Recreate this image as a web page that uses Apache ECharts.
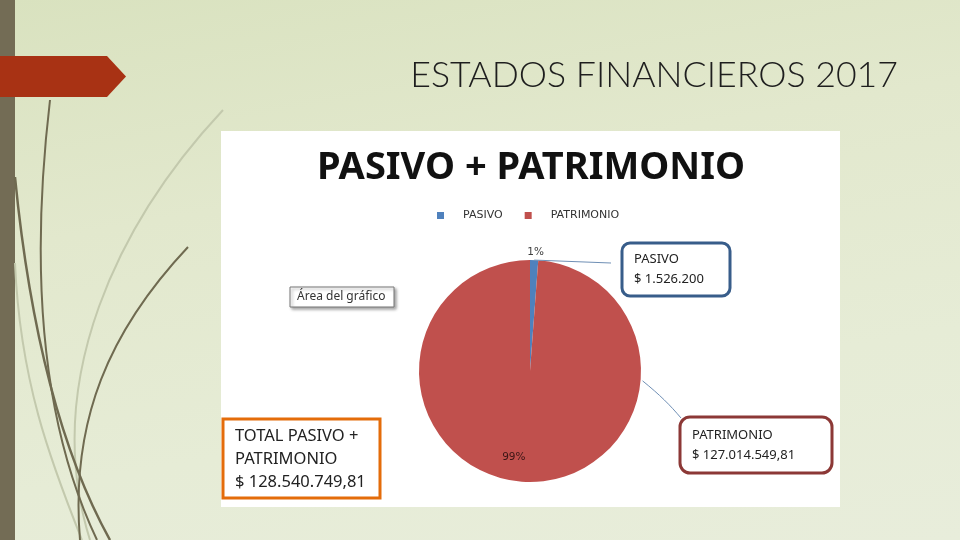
<!DOCTYPE html>
<html>
<head>
<meta charset="utf-8">
<script src="https://cdn.jsdelivr.net/npm/echarts@6/dist/echarts.min.js"></script>
<style>
html,body{margin:0;padding:0;}
body{width:960px;height:540px;overflow:hidden;
background:linear-gradient(170deg,#d9e2bf 0%,#e2e8cd 35%,#e6ecd6 70%,#e8eddb 100%);}
#chart{width:960px;height:540px;}
</style>
</head>
<body>
<div id="chart"></div>
<script>
// ---- data ----
const slideTitle = 'ESTADOS FINANCIEROS 2017';
const chartTitle = 'PASIVO + PATRIMONIO';
const categories = ['PASIVO', 'PATRIMONIO'];
const values = [1526200, 127014549.81];
const colors = ['#4f81bd', '#c0504d'];
const totalCaption = ['TOTAL PASIVO +', 'PATRIMONIO'];
const tooltipCaption = 'Área del gráfico';

// ---- helpers ----
function fmt(v) {
  const fixed = (Math.round(v * 100) / 100).toFixed(2);
  let [ip, dp] = fixed.split('.');
  ip = ip.replace(/\B(?=(\d{3})+(?!\d))/g, '.');
  return '$ ' + ip + (dp === '00' ? '' : ',' + dp);
}
const total = values.reduce((a, b) => a + b, 0);

const CX = 530, CY = 371, R = 111;
const toRad = d => d * Math.PI / 180;
// pasivo slice mid-angle (start at top, clockwise)
const pasivoMid = 90 - (values[0] / total * 360) / 2;
const p0 = [CX + R * Math.cos(toRad(pasivoMid)), CY - R * Math.sin(toRad(pasivoMid))];
const patAng = -5;
const p1 = [CX + (R + 2) * Math.cos(toRad(patAng)), CY - (R + 2) * Math.sin(toRad(patAng))];

const darkLine = '#6f6a50';
const lightLine = '#c3c9ad';

const chart = echarts.init(document.getElementById('chart'), null, {renderer: 'canvas'});
const option = {
  animation: false,
  backgroundColor: 'transparent',
  color: colors,
  title: {
    text: chartTitle,
    left: 526, top: 144,
    textAlign: 'center',
    textStyle: {fontFamily: 'Noto Sans', fontWeight: 'bold', fontSize: 38, color: '#111'}
  },
  legend: {
    data: categories,
    left: 437, top: 210,
    padding: 0,
    icon: 'rect', itemWidth: 7, itemHeight: 7, itemGap: 22,
    selectedMode: false,
    textStyle: {fontFamily: 'DejaVu Sans', fontSize: 11, color: '#333', padding: [0, 0, 0, 14]}
  },
  graphic: [
    // left decorative bar
    {type: 'rect', z: -10, shape: {x: 0, y: 0, width: 15, height: 540}, style: {fill: '#736c55'}},
    // decorative curves
    {type: 'bezierCurve', z: -9, shape: {x1: 223, y1: 110, cpx1: 120, cpy1: 220, cpx2: 40, cpy2: 380, x2: 90, y2: 540}, style: {stroke: lightLine, lineWidth: 2, fill: null}},
    {type: 'bezierCurve', z: -9, shape: {x1: 15, y1: 263, cpx1: 20, cpy1: 380, cpx2: 50, cpy2: 460, x2: 82, y2: 540}, style: {stroke: lightLine, lineWidth: 2, fill: null}},
    {type: 'bezierCurve', z: -8, shape: {x1: 50, y1: 100, cpx1: 30, cpy1: 270, cpx2: 40, cpy2: 420, x2: 97, y2: 540}, style: {stroke: darkLine, lineWidth: 2, fill: null}},
    {type: 'bezierCurve', z: -8, shape: {x1: 15, y1: 177, cpx1: 30, cpy1: 330, cpx2: 60, cpy2: 450, x2: 110, y2: 540}, style: {stroke: darkLine, lineWidth: 2.5, fill: null}},
    {type: 'bezierCurve', z: -8, shape: {x1: 188, y1: 247, cpx1: 110, cpy1: 330, cpx2: 70, cpy2: 420, x2: 80, y2: 540}, style: {stroke: darkLine, lineWidth: 2, fill: null}},
    // red arrow
    {type: 'polygon', z: -7, shape: {points: [[0, 56], [107, 56], [126, 76.5], [107, 97], [0, 97]]}, style: {fill: '#a83214'}},
    // slide title
    {type: 'text', z: 5, style: {text: slideTitle, x: 898, y: 75, align: 'right', verticalAlign: 'middle',
      font: '300 35.7px Lato', fill: '#1e1e1e'}},
    // white chart area
    {type: 'rect', z: -5, shape: {x: 221, y: 131, width: 619, height: 376}, style: {fill: '#ffffff'}},
    // tooltip-like box "Área del gráfico"
    {type: 'rect', z: 5, shape: {x: 290, y: 287, width: 104, height: 20}, style: {fill: '#fff', stroke: '#777', lineWidth: 1,
      shadowBlur: 3, shadowOffsetX: 2, shadowOffsetY: 2, shadowColor: 'rgba(0,0,0,0.35)'}},
    {type: 'text', z: 6, style: {text: tooltipCaption, x: 297, y: 297, verticalAlign: 'middle', font: '12px "Noto Sans"', fill: '#333'}},
    // leader lines
    {type: 'line', z: 4, shape: {x1: p0[0], y1: p0[1], x2: 611, y2: 263}, style: {stroke: '#6f8fb5', lineWidth: 1}},
    {type: 'bezierCurve', z: 4, shape: {x1: p1[0], y1: p1[1], cpx1: 660, cpy1: 395, cpx2: 670, cpy2: 405, x2: 681, y2: 418}, style: {stroke: '#6f8fb5', lineWidth: 1, fill: null}},
    // PASIVO callout
    {type: 'rect', z: 5, shape: {x: 622, y: 243, width: 108, height: 53, r: 8}, style: {fill: '#fff', stroke: '#385d8a', lineWidth: 3}},
    {type: 'text', z: 6, style: {text: categories[0] + '\n' + fmt(values[0]), x: 634, y: 269, verticalAlign: 'middle',
      font: '13px "Noto Sans"', lineHeight: 20, fill: '#222'}},
    // PATRIMONIO callout
    {type: 'rect', z: 5, shape: {x: 680, y: 417, width: 152, height: 56, r: 10}, style: {fill: '#fff', stroke: '#8c3836', lineWidth: 3}},
    {type: 'text', z: 6, style: {text: categories[1] + '\n' + fmt(values[1]), x: 692, y: 445, verticalAlign: 'middle',
      font: '13px "Noto Sans"', lineHeight: 20, fill: '#222'}},
    // TOTAL box
    {type: 'rect', z: 5, shape: {x: 223, y: 419, width: 157, height: 79}, style: {fill: '#fff', stroke: '#e46c0a', lineWidth: 3}},
    {type: 'text', z: 6, style: {text: totalCaption.join('\n') + '\n' + fmt(total), x: 235, y: 459, verticalAlign: 'middle',
      font: '16.5px "Noto Sans"', lineHeight: 23, fill: '#222'}}
  ],
  series: [{
    type: 'pie',
    center: [CX, CY],
    radius: R,
    startAngle: 90,
    clockwise: true,
    percentPrecision: 0,
    silent: true,
    itemStyle: {borderWidth: 0},
    label: {formatter: '{d}%', fontFamily: 'DejaVu Sans', fontSize: 10.5},
    labelLine: {show: false, length: 3, length2: 0},
    labelLayout: function (p) {
      if (p.dataIndex === 0) return {dx: -12, dy: -5};
      return {dx: -14, dy: 28};
    },
    data: categories.map((c, i) => ({
      name: c, value: values[i],
      label: i === 0 ? {position: 'outside', color: '#404040'} : {position: 'inside', color: '#3a1515'}
    }))
  }]
};
chart.setOption(option);
</script>
</body>
</html>
